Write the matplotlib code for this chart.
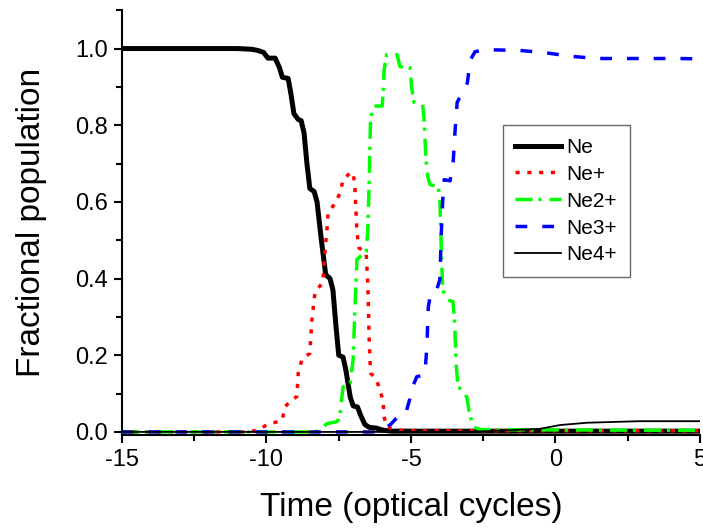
import matplotlib
matplotlib.use("Agg")
import matplotlib.pyplot as plt
from matplotlib.ticker import MultipleLocator

plt.rcParams['font.family'] = ['Liberation Sans', 'DejaVu Sans']

# ---- data ----
t_ne = [-15, -11, -10.5, -10.3, -10.1, -9.95, -9.7, -9.55, -9.45, -9.25, -9.15, -9.05, -8.9, -8.8,
        -8.7, -8.6, -8.5, -8.35, -8.25, -8.1, -7.95, -7.8, -7.7, -7.6, -7.5, -7.35, -7.25, -7.1,
        -7.0, -6.85, -6.75, -6.6, -6.45, -6.2, -6.0, -5.7, 5]
ne = [1.0, 1.0, 0.998, 0.995, 0.99, 0.975, 0.975, 0.95, 0.925, 0.922, 0.88, 0.83, 0.815, 0.812,
      0.78, 0.70, 0.635, 0.627, 0.60, 0.50, 0.41, 0.40, 0.37, 0.28, 0.20, 0.195, 0.16, 0.09,
      0.068, 0.065, 0.045, 0.02, 0.012, 0.01, 0.005, 0.002, 0.002]

t_ne1 = [-15, -10.6, -10.3, -9.95, -9.6, -9.46, -9.36, -9.1, -8.95, -8.9, -8.77, -8.5, -8.43, -8.32,
         -8.05, -7.98, -7.9, -7.87, -7.6, -7.45, -7.35, -7.1, -7.0, -6.94, -6.87, -6.8, -6.55,
         -6.49, -6.45, -6.4, -6.19, -5.97, -5.93, -5.85, -5.48, -5.0, 5]
ne1 = [0.0, 0.0, 0.005, 0.02, 0.027, 0.03, 0.066, 0.085, 0.092, 0.154, 0.19, 0.205, 0.29, 0.365,
       0.39, 0.467, 0.535, 0.57, 0.60, 0.624, 0.658, 0.676, 0.676, 0.64, 0.52, 0.48, 0.467,
       0.38, 0.25, 0.154, 0.136, 0.083, 0.04, 0.013, 0.005, 0.003, 0.003]

t_ne2 = [-15, -8.3, -8.1, -7.9, -7.6, -7.52, -7.45, -7.35, -7.1, -7.0, -6.95, -6.9, -6.87, -6.55,
         -6.5, -6.45, -6.4, -6.3, -6.0, -5.96, -5.93, -5.84, -5.48, -5.38, -5.03, -4.98, -4.9,
         -4.6, -4.55, -4.48, -4.42, -4.34, -4.06, -4.0, -3.95, -3.9, -3.75, -3.55, -3.5,
         -3.43, -3.37, -3.13, -3.05, -2.98, -2.85, -2.6, 5]
ne2 = [0.0, 0.0, 0.01, 0.022, 0.026, 0.03, 0.05, 0.117, 0.128, 0.19, 0.30, 0.39, 0.45, 0.47,
       0.52, 0.64, 0.815, 0.85, 0.85, 0.885, 0.945, 0.984, 0.984, 0.953, 0.95, 0.90, 0.86,
       0.854, 0.82, 0.71, 0.666, 0.645, 0.64, 0.606, 0.475, 0.37, 0.345, 0.34, 0.30,
       0.17, 0.117, 0.104, 0.083, 0.05, 0.013, 0.006, 0.004]

t_ne3 = [-15, -6.3, -5.97, -5.7, -5.45, -5.2, -5.05, -4.93, -4.8, -4.52, -4.45, -4.4, -4.34, -4.17,
         -4.0, -3.95, -3.9, -3.85, -3.65, -3.55, -3.48, -3.4, -3.13, -3.05, -2.95, -2.78, -2.37,
         -1.23, -0.43, 0.5, 1.44, 4.3, 5]
ne3 = [0.0, 0.0, 0.005, 0.02, 0.04, 0.044, 0.083, 0.12, 0.144, 0.149, 0.222, 0.326, 0.352, 0.357,
       0.397, 0.52, 0.606, 0.658, 0.655, 0.69, 0.78, 0.86, 0.898, 0.91, 0.97, 0.992, 0.997,
       0.995, 0.99, 0.98, 0.974, 0.974, 0.973]

t_ne4 = [-15, -3.0, -1.47, -0.54, 0.16, 1.1, 2.0, 2.9, 5]
ne4 = [0.0, 0.0, 0.005, 0.008, 0.018, 0.024, 0.026, 0.028, 0.028]

labels = ["Ne", "Ne+", "Ne2+", "Ne3+", "Ne4+"]
xticks = [-15, -10, -5, 0, 5]
yticks = [0.0, 0.2, 0.4, 0.6, 0.8, 1.0]

# ---- figure ----
fig = plt.figure(figsize=(7.03, 5.29), dpi=100)
ax = fig.add_axes([0.1735, 0.1777, 0.8222, 0.803])

ax.plot(t_ne, ne, color='black', lw=3.6, solid_joinstyle='round', label=labels[0], zorder=3)
ax.plot(t_ne1, ne1, color='red', lw=2.5, linestyle=(0, (1.2, 2.2)), label=labels[1], zorder=3)
ax.plot(t_ne2, ne2, color='#00ff00', lw=2.5, linestyle=(0, (4.9, 1.7, 0.9, 2.3)), label=labels[2], zorder=4)
ax.plot(t_ne3, ne3, color='blue', lw=2.5, linestyle=(0, (3.4, 4.3)), label=labels[3], zorder=4)
ax.plot(t_ne4, ne4, color='black', lw=1.3, label=labels[4], zorder=5)

ax.set_xlim(-15, 5)
ax.set_ylim(-0.008, 1.10)
ax.set_xticks(xticks)
ax.set_xticklabels([f"{v:d}" for v in xticks])
ax.set_yticks(yticks)
ax.set_yticklabels([f"{v:.1f}" for v in yticks])
ax.xaxis.set_minor_locator(MultipleLocator(2.5))
ax.yaxis.set_minor_locator(MultipleLocator(0.1))

for s in ['top', 'right']:
    ax.spines[s].set_visible(False)
for s in ['left', 'bottom']:
    ax.spines[s].set_linewidth(1.5)
ax.tick_params(which='major', direction='out', length=6, width=1.5, labelsize=17, pad=4)
ax.tick_params(which='minor', direction='out', length=4, width=1.5)

ax.set_xlabel("Time (optical cycles)", fontsize=24, labelpad=15)
ax.set_ylabel("Fractional population", fontsize=24, labelpad=20)

leg = ax.legend(loc='upper left', bbox_to_anchor=(0.659, 0.729), fontsize=15, frameon=True,
                fancybox=False, handlelength=2.2, handletextpad=0.25, labelspacing=0.38,
                borderpad=0.6, borderaxespad=0)
leg.get_frame().set_edgecolor('#444444')
leg.get_frame().set_linewidth(1.0)

fig.savefig("out.png", dpi=100)
